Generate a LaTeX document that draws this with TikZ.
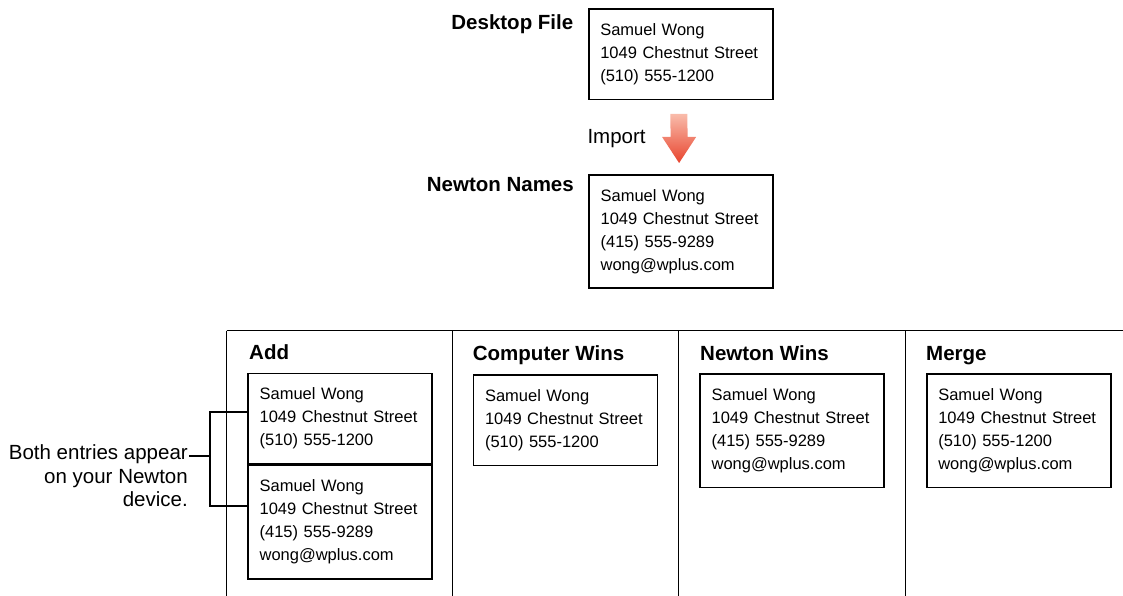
\documentclass[tikz,border=0pt]{standalone}
\usepackage{fontspec}
\setmainfont{Liberation Sans}
\usetikzlibrary{positioning,calc}
\definecolor{arrowtop}{HTML}{F9BCAB}
\definecolor{arrowbot}{HTML}{E8442E}

\tikzset{
    card/.style={draw, line width=1.6pt, anchor=north west, text width=161pt,
        inner xsep=11.5pt, inner ysep=14.5pt, align=left,
        font=\fontsize{16.5}{23}\selectfont},
    head/.style={font=\bfseries\fontsize{20.5}{24}\selectfont, inner sep=0pt},
    note/.style={font=\fontsize{20.5}{23.5}\selectfont, inner sep=0pt},
    rule/.style={line width=0.9pt},
    brace/.style={line width=1.6pt}
}

\begin{document}
\begin{tikzpicture}[x=1pt, y=-1pt]
    \useasboundingbox (0,0) rectangle (1123,596);

    % import step
    \node[head, anchor=base east] (hdesk) at (573.5,29.5) {Desktop File};
    \node[card] (desk) at (588,8.3) {Samuel Wong\\1049 Chestnut Street\\(510) 555-1200};
    \node[head, anchor=base east] (hnewt) at (574,191.7) {Newton Names};
    \node[card] (newt) at (588.3,174) {Samuel Wong\\1049 Chestnut Street\\(415) 555-9289\\wong@wplus.com};
    \node[note, anchor=base west] (import) at (587.3,143.3) {Import};

    \coordinate (imptop) at ($(desk.south)+(-2,13.5)$);
    \coordinate (imptip) at ($(newt.north)+(-2,-11)$);
    \path[top color=arrowtop, bottom color=arrowbot]
        ([xshift=-8.5pt]imptop) -- ([xshift=8.5pt]imptop)
        -- ([xshift=8.5pt, yshift=26pt]imptip) -- ([xshift=17pt, yshift=26pt]imptip)
        -- (imptip)
        -- ([xshift=-17pt, yshift=26pt]imptip) -- ([xshift=-8.5pt, yshift=26pt]imptip)
        -- cycle;

    % table of sync options
    \draw[rule] (226.5,330.7) -- (1123,330.7);
    \foreach \x in {226.5,452.5,678.5,905}
        \draw[rule] (\x,330.7) -- (\x,596);

    \node[head, anchor=base west] (hadd) at (249,359) {Add};
    \node[head, anchor=base west] (hcomp) at (472.7,360.7) {Computer Wins};
    \node[head, anchor=base west] (hnwin) at (700,360.5) {Newton Wins};
    \node[head, anchor=base west] (hmerge) at (926,360) {Merge};

    \node[card] (addA) at (247.3,372.7) {Samuel Wong\\1049 Chestnut Street\\(510) 555-1200};
    \node[card] (addB) at (addA.south west) {Samuel Wong\\1049 Chestnut Street\\(415) 555-9289\\wong@wplus.com};
    \node[card] (comp) at (472.7,374.3) {Samuel Wong\\1049 Chestnut Street\\(510) 555-1200};
    \node[card] (nwin) at (699.3,373.3) {Samuel Wong\\1049 Chestnut Street\\(415) 555-9289\\wong@wplus.com};
    \node[card] (merge) at (926,373.3) {Samuel Wong\\1049 Chestnut Street\\(510) 555-1200\\wong@wplus.com};

    % both entries bracket
    \node[note, anchor=north east, align=right] (both) at (188,444.5) {Both entries appear\\on your Newton\\device.};
    \coordinate (brk) at (210,456);
    \coordinate (brkA) at ($(addA.west)+(0,-6.5)$);
    \coordinate (brkB) at ($(addB.west)+(0,-16)$);
    \draw[brace] (brkA) -- (brkA -| brk) -- (brkB -| brk) -- (brkB);
    \draw[brace] ([xshift=1pt, yshift=-11.5pt]both.north east) -- (brk);
\end{tikzpicture}
\end{document}
